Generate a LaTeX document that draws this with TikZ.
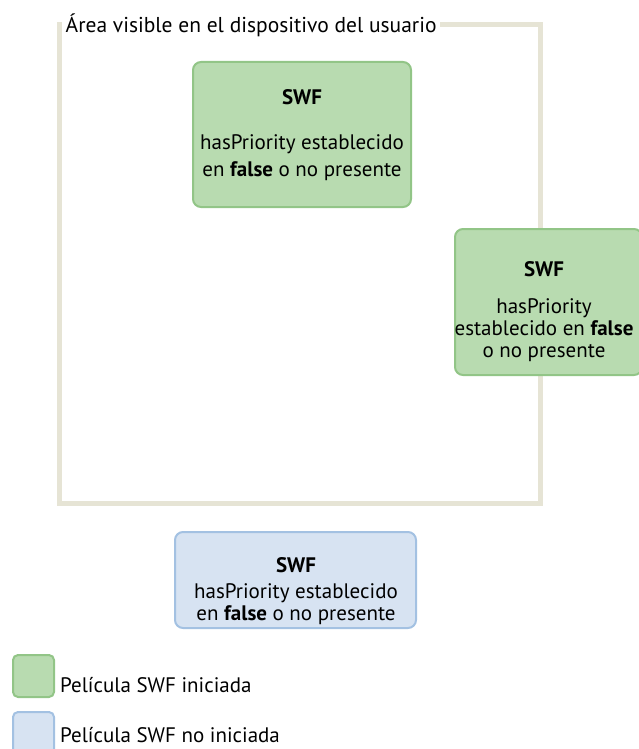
\documentclass[tikz,border=0pt]{standalone}
\usepackage{fontspec}
\setmainfont{PT Sans}
\definecolor{gfill}{RGB}{184,219,176}
\definecolor{gline}{RGB}{146,197,135}
\definecolor{bfill}{RGB}{215,227,242}
\definecolor{bline}{RGB}{163,193,226}
\definecolor{frame}{RGB}{230,228,213}
\begin{document}
\begin{tikzpicture}[x=1pt,y=-1pt,
  txt/.style={font=\fontsize{21}{22}\selectfont, inner sep=0pt, align=center},
  gbox/.style={draw=gline, fill=gfill, line width=2pt, rounded corners=8pt},
  bbox/.style={draw=bline, fill=bfill, line width=2pt, rounded corners=8pt}]
\useasboundingbox (0,0) rectangle (639,749);
% frame
\draw[frame, line width=5pt] (59,25) rectangle (540,503);
\node[txt, font=\fontsize{21.5}{22}\selectfont, fill=white, inner xsep=3.5pt, inner ysep=3pt, anchor=west] (title) at (62,25) {Área visible en el dispositivo del usuario};
% box 1
\draw[gbox] (193,62) rectangle (411,207);
\node[txt] (s1) at (302,97) {\textbf{SWF}};
\node[txt, font=\fontsize{21}{27}\selectfont] (t1) at (302,158) {hasPriority establecido\\en \textbf{false} o no presente};
% box 2
\draw[gbox] (455,229) rectangle (642,375);
\node[txt] (s2) at (544,269) {\textbf{SWF}};
\node[txt] (t2) at (544,330) {hasPriority\\establecido en \textbf{false}\\o no presente};
% box 3
\draw[bbox] (175,532) rectangle (416,628);
\node[txt] (s3) at (296,565) {\textbf{SWF}};
\node[txt] (t3) at (296,604) {hasPriority establecido\\en \textbf{false} o no presente};
% legend
\draw[gbox, rounded corners=5pt] (13,655) rectangle (54,697);
\node[txt, anchor=west] (l1) at (60,685) {Película SWF iniciada};
\draw[bbox, rounded corners=5pt] (13,712) rectangle (54,754);
\node[txt, anchor=west] (l2) at (60,735) {Película SWF no iniciada};
\end{tikzpicture}
\end{document}
